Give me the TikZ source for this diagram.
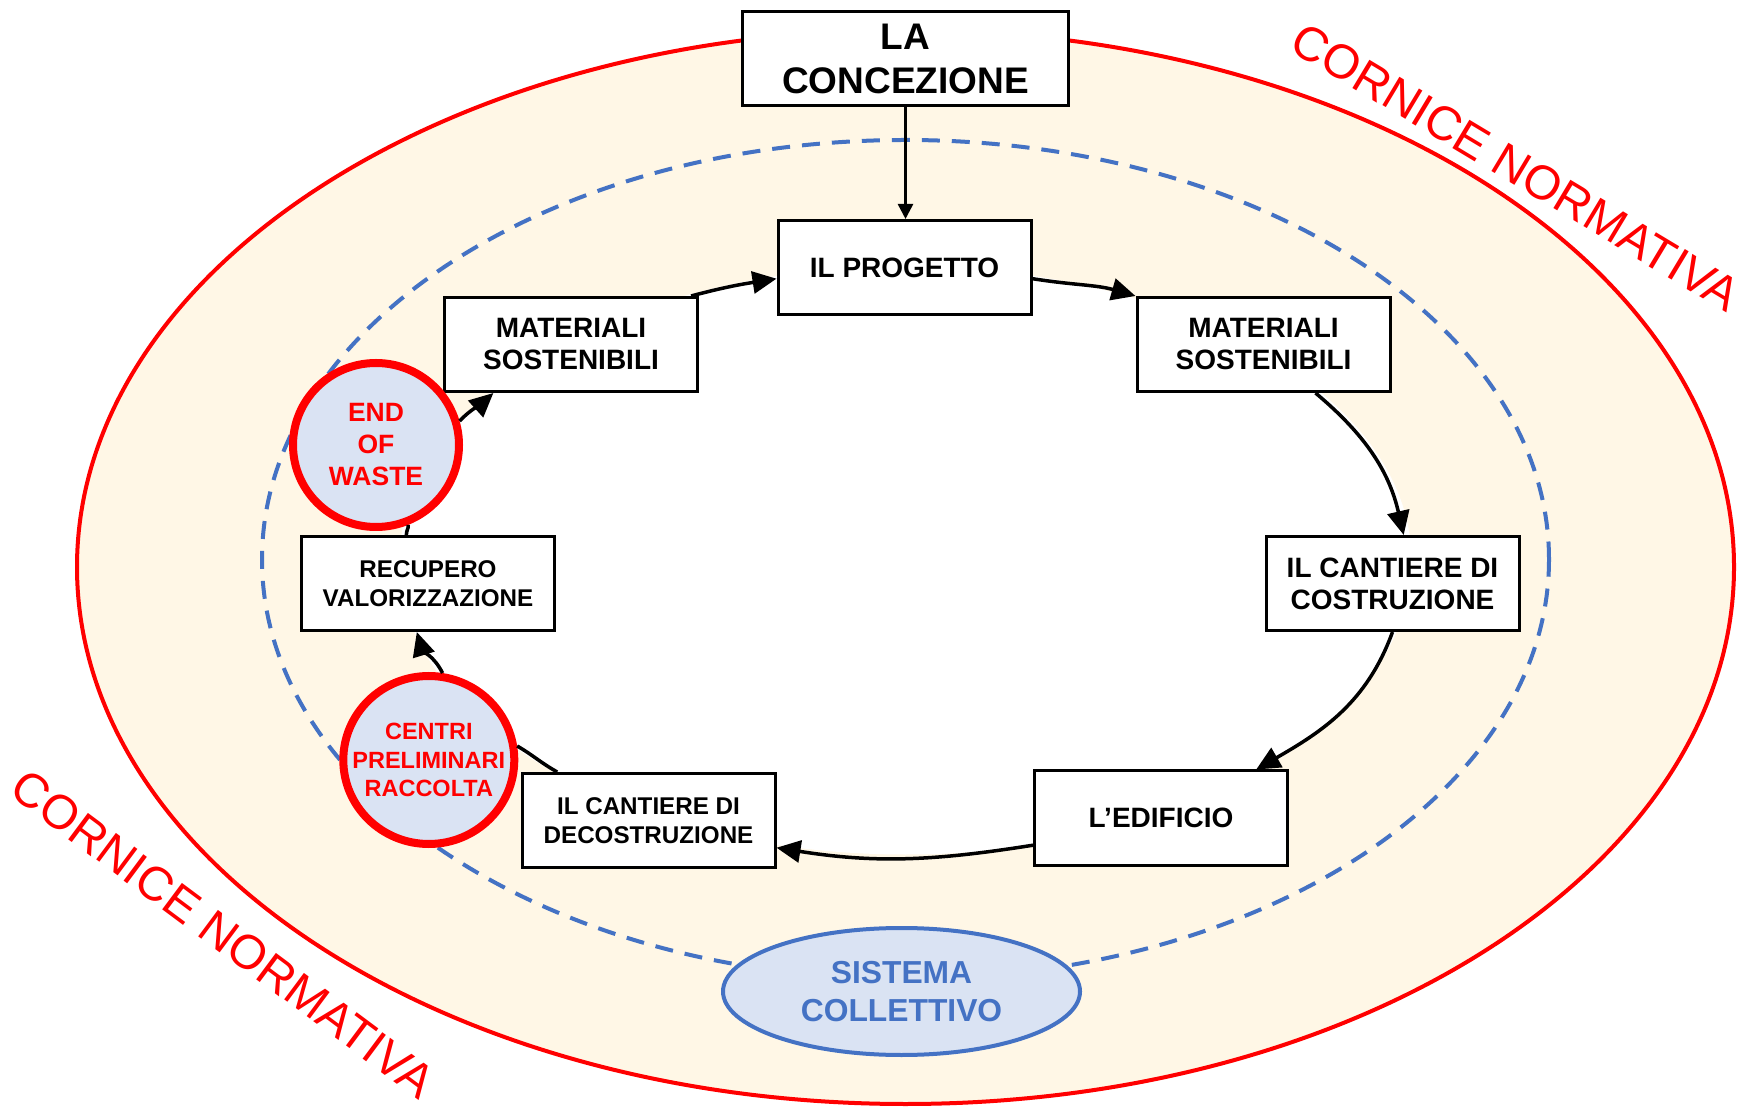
\documentclass[tikz,border=0pt]{standalone}
\usepackage{fontspec}
\setmainfont{Liberation Sans}
\usetikzlibrary{arrows.meta,shapes.geometric}
\definecolor{cream}{RGB}{255,247,230}
\definecolor{paleblue}{RGB}{218,227,243}
\definecolor{officeblue}{RGB}{68,114,196}

\begin{document}
\begin{tikzpicture}
  [x=1pt,y=1pt,
   box/.style={draw,fill=white,line width=3pt,align=center,inner sep=0pt,minimum width=253pt,minimum height=94pt},
   boxbig/.style={font=\fontsize{28}{32}\selectfont\bfseries},
   boxsmall/.style={font=\fontsize{24.2}{28.5}\selectfont\bfseries},
   waste/.style={ellipse,draw=red,line width=8pt,fill=paleblue,text=red,align=center,inner sep=0pt},
   cornice/.style={text=red,font=\fontsize{48}{48}\selectfont,inner sep=0pt},
   arr/.style={line width=3.5pt,-{Triangle[length=24pt,width=22pt]}},
   link/.style={line width=3.5pt}]

  \useasboundingbox (0,0) rectangle (1744,1106);

  \draw[red,line width=4pt,fill=cream] (905.5,539) ellipse [x radius=828.5pt,y radius=537pt];
  \fill[white] (905.5,545.5) ellipse [x radius=506pt,y radius=294pt];
  \draw[officeblue,line width=4pt,dash pattern=on 18pt off 12pt] (905.5,546.5) ellipse [x radius=643.5pt,y radius=419.5pt];

  \node[cornice,rotate=-31] (cornTop) at (1516,939) {CORNICE NORMATIVA};
  \node[cornice,rotate=-36.7] (cornBot) at (223,172) {CORNICE NORMATIVA};

  \node[box,minimum width=326pt,font=\fontsize{37}{44}\selectfont\bfseries] (conc) at (905.5,1047.5) {LA\\CONCEZIONE};
  \node[box,boxbig] (prog) at (904.5,838.5) {IL PROGETTO};
  \node[box,boxbig] (matL) at (571,761.5) {MATERIALI\\SOSTENIBILI};
  \node[box,boxbig] (matR) at (1263.5,761.5) {MATERIALI\\SOSTENIBILI};
  \node[box,boxbig] (costr) at (1392.5,522.5) {IL CANTIERE DI\\COSTRUZIONE};
  \node[box,boxbig] (edif) at (1161,288) {L’EDIFICIO};
  \node[box,boxsmall] (decostr) at (648.5,285.5) {IL CANTIERE DI\\DECOSTRUZIONE};
  \node[box,boxsmall] (recup) at (428,522.5) {RECUPERO\\VALORIZZAZIONE};

  \node[waste,minimum width=166pt,minimum height=164pt,font=\fontsize{26.5}{32}\selectfont\bfseries] (eow) at (376,661) {END\\OF\\WASTE};
  \node[waste,inner xsep=-20pt,minimum width=171pt,minimum height=168pt,font=\fontsize{23.5}{28.4}\selectfont\bfseries] (centri) at (428.8,346) {CENTRI\\PRELIMINARI\\RACCOLTA};

  \foreach \from/\to/\o/\i/\s in {prog.-5/matR.north west/-9/164/arr,
      matR.-43/costr.77/-40/103/arr, costr.south/edif.27/-110/30/arr,
      edif.192/decostr.-12/189/-9/arr, decostr.152/centri.9/151/-30/link,
      centri.81/recup.-103/117/-73/arr, recup.114/eow.-68/95/-85/link,
      eow.16/matL.-148/46/-138/arr, matL.22/prog.185/15/189/arr}
    \draw[\s] (\from) to[out=\o,in=\i] (\to);
  \draw[line width=2.5pt,-{Triangle[length=15pt,width=15pt]}] (conc.south) -- (conc.south |- prog.north);

  \node[ellipse,draw=officeblue,line width=4pt,fill=paleblue,text=officeblue,align=center,inner sep=0pt,minimum width=357pt,minimum height=127pt,font=\fontsize{31.8}{38}\selectfont\bfseries] (sist) at (901.5,114.5) {SISTEMA\\COLLETTIVO};
\end{tikzpicture}
\end{document}
